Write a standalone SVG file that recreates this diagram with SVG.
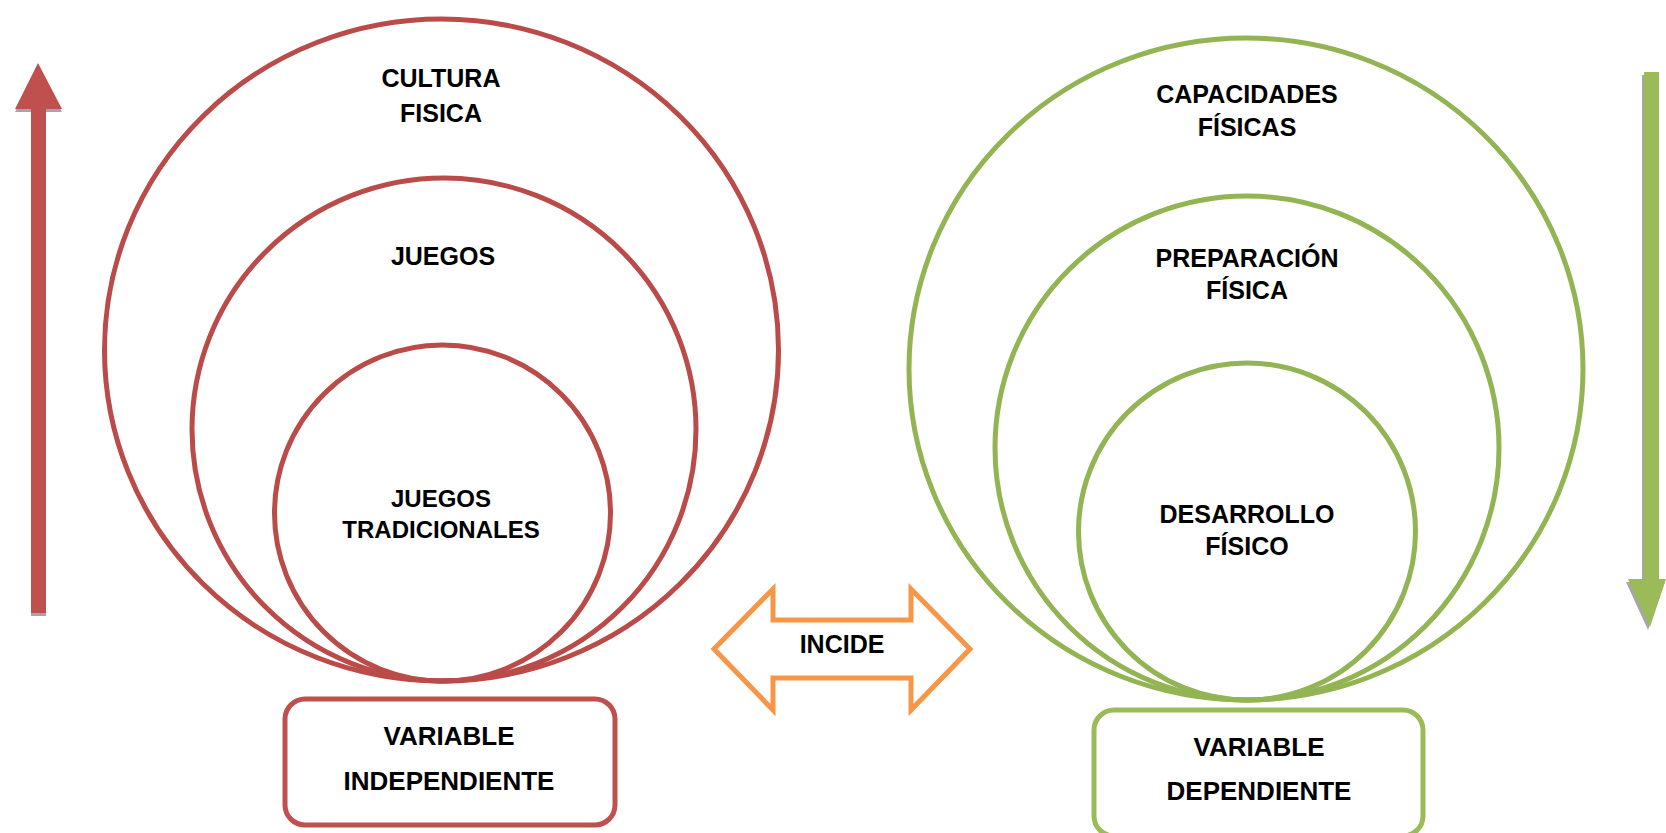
<svg xmlns="http://www.w3.org/2000/svg" width="1666" height="833" viewBox="0 0 1666 833">
<style>
.t{font-family:"Liberation Sans",Arial,sans-serif;font-weight:bold;font-size:25px;fill:#000;text-anchor:middle}
.s{font-size:24px}
.b{font-size:26px}
.rc{fill:none;stroke:#BA4B48;stroke-width:5}
.gc{fill:none;stroke:#93B453;stroke-width:5}
.rb{fill:#fff;stroke:#C0504D;stroke-width:5}
.gb{fill:#fff;stroke:#9BBB59;stroke-width:5}
.sh{fill:#A6A6A6}
</style>
<rect width="1666" height="833" fill="#fff"/>
<g id="arrow-up">
<polygon class="sh" points="31,616 46,616 46,112 62,112 38,67 15,112 31,112"/>
<polygon fill="#C0504D" points="31,613 46,613 46,109 62,109 38,63 15,109 31,109"/>
</g>
<g id="arrow-down">
<polygon class="sh" points="1642,75 1657,75 1657,582 1665,582 1648,630 1626,582 1642,582"/>
<polygon fill="#9BBB59" points="1644,72 1659,72 1659,579 1666,579 1650,627 1628,579 1644,579"/>
</g>
<g id="cultura-fisica">
<ellipse class="rc" cx="441.5" cy="350" rx="337" ry="331"/>
<text class="t" x="441" y="87">CULTURA</text>
<text class="t" x="441" y="122">FISICA</text>
</g>
<g id="juegos">
<ellipse class="rc" cx="444" cy="429.5" rx="252" ry="251.5"/>
<text class="t" x="443" y="265">JUEGOS</text>
</g>
<g id="juegos-tradicionales">
<ellipse class="rc" cx="442.5" cy="513" rx="168" ry="168"/>
<text class="t s" x="441" y="507">JUEGOS</text>
<text class="t s" x="441" y="538">TRADICIONALES</text>
</g>
<g id="capacidades-fisicas">
<ellipse class="gc" cx="1246" cy="369" rx="337" ry="331"/>
<text class="t" x="1247" y="103">CAPACIDADES</text>
<text class="t" x="1247" y="136">FÍSICAS</text>
</g>
<g id="preparacion-fisica">
<ellipse class="gc" cx="1247" cy="448" rx="252" ry="252"/>
<text class="t" x="1247" y="267">PREPARACIÓN</text>
<text class="t" x="1247" y="299">FÍSICA</text>
</g>
<g id="desarrollo-fisico">
<ellipse class="gc" cx="1247" cy="531.5" rx="168.5" ry="168.5"/>
<text class="t" x="1247" y="523">DESARROLLO</text>
<text class="t" x="1247" y="555">FÍSICO</text>
</g>
<g id="variable-independiente">
<rect class="rb" x="285" y="699" width="330" height="126" rx="20"/>
<text class="t b" x="449" y="745">VARIABLE</text>
<text class="t b" x="449" y="790">INDEPENDIENTE</text>
</g>
<g id="variable-dependiente">
<rect class="gb" x="1094" y="710" width="329" height="126" rx="20"/>
<text class="t b" x="1259" y="756">VARIABLE</text>
<text class="t b" x="1259" y="800">DEPENDIENTE</text>
</g>
<g id="incide">
<polygon fill="#fff" stroke="#F79646" stroke-width="5" stroke-linejoin="miter" points="714,649 773,589 773,620 911,620 911,589 970,649 911,710 911,678 773,678 773,710"/>
<text class="t" x="842" y="653">INCIDE</text>
</g>
</svg>
